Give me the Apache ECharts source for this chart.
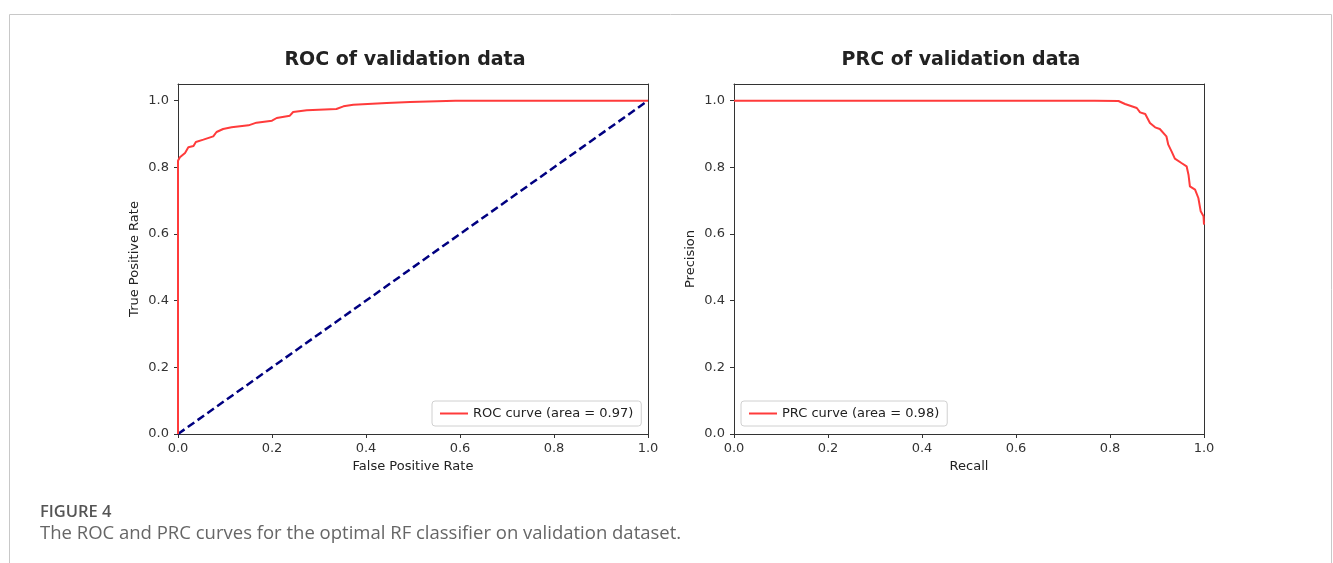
<!DOCTYPE html>
<html>
<head>
<meta charset="utf-8">
<script src="https://cdn.jsdelivr.net/npm/echarts@6/dist/echarts.min.js"></script>
<style>
  html, body { margin: 0; padding: 0; background: #fff; }
  #main { width: 1333px; height: 563px; }
</style>
</head>
<body>
<div id="main"></div>
<script>
// ROC curve points
var rocFpr = [0, 0, 0.004, 0.015, 0.022, 0.033, 0.038, 0.054, 0.075, 0.082, 0.096, 0.114, 0.118, 0.15, 0.167, 0.2, 0.21, 0.238, 0.245, 0.274, 0.337, 0.352, 0.373, 0.444, 0.494, 0.59, 1.0];
var rocTpr = [0, 0.82, 0.83, 0.843, 0.86, 0.864, 0.876, 0.883, 0.893, 0.906, 0.915, 0.92, 0.926, 0.926, 0.934, 0.94, 0.948, 0.955, 0.966, 0.971, 0.975, 0.983, 0.988, 0.993, 0.996, 1.0, 1.0];
var diagX = [0, 1];
var diagY = [0, 1];

// PRC curve points
var prcRecall = [0, 0.672, 0.768, 0.818, 0.832, 0.857, 0.864, 0.875, 0.885, 0.896, 0.906, 0.92, 0.924, 0.931, 0.938, 0.952, 0.963, 0.967, 0.97, 0.981, 0.988, 0.993, 0.999, 1.0];
var prcPrecision = [1.0, 1.0, 1.0, 0.999, 0.99, 0.978, 0.965, 0.96, 0.933, 0.92, 0.915, 0.893, 0.868, 0.848, 0.826, 0.813, 0.803, 0.778, 0.743, 0.733, 0.708, 0.668, 0.653, 0.628];

var rocName = 'ROC curve (area = 0.97)';
var prcName = 'PRC curve (area = 0.98)';

function zip(a, b) {
  return a.map(function (v, i) { return [v, b[i]]; });
}

var chart = echarts.init(document.getElementById('main'));
var fontFam = 'DejaVu Sans';
var boxColor = '#333';

function mainX(idx, name) {
  return {
    type: 'value', gridIndex: idx, min: 0, max: 1, interval: 0.2,
    name: name, nameLocation: 'middle', nameGap: 25,
    nameTextStyle: { fontFamily: fontFam, fontSize: 13, color: '#222' },
    axisLine: { show: true, onZero: false, lineStyle: { color: boxColor } },
    axisTick: { show: true, length: 4, lineStyle: { color: boxColor } },
    axisLabel: { fontFamily: fontFam, fontSize: 13, color: '#333', margin: 8,
      formatter: function (v) { return v.toFixed(1); } },
    splitLine: { show: false }
  };
}
function mainY(idx, name) {
  return {
    type: 'value', gridIndex: idx, min: 0, max: 1.05, interval: 0.2,
    name: name, nameLocation: 'middle', nameGap: 37,
    nameTextStyle: { fontFamily: fontFam, fontSize: 13, color: '#222' },
    axisLine: { show: true, onZero: false, lineStyle: { color: boxColor } },
    axisTick: { show: true, length: 4, lineStyle: { color: boxColor } },
    axisLabel: { fontFamily: fontFam, fontSize: 13, color: '#333', margin: 9, showMaxLabel: false,
      formatter: function (v) { return v > 1.01 ? '' : v.toFixed(1); } },
    splitLine: { show: false }
  };
}
function frameX(idx) {
  return { type: 'value', gridIndex: idx, position: 'top', min: 0, max: 1,
    axisLine: { show: true, onZero: false, lineStyle: { color: boxColor } },
    axisTick: { show: false }, axisLabel: { show: false }, splitLine: { show: false } };
}
function frameY(idx) {
  return { type: 'value', gridIndex: idx, position: 'right', min: 0, max: 1.05,
    axisLine: { show: true, onZero: false, lineStyle: { color: boxColor } },
    axisTick: { show: false }, axisLabel: { show: false }, splitLine: { show: false } };
}

var legendBase = {
  orient: 'horizontal', icon: 'rect', itemWidth: 28, itemHeight: 2, itemGap: 8,
  padding: [6, 8, 6, 8], borderColor: '#d0d0d0', borderWidth: 1, borderRadius: 3,
  backgroundColor: 'rgba(255,255,255,0.8)',
  textStyle: { fontFamily: fontFam, fontSize: 13, color: '#222' }
};

var titleStyle = { fontFamily: fontFam, fontSize: 19, fontWeight: 'bold', color: '#222' };

chart.setOption({
  animation: false,
  title: [
    { text: 'ROC of validation data', left: 400, top: 46, textAlign: 'center', textStyle: titleStyle },
    { text: 'PRC of validation data', left: 956, top: 46, textAlign: 'center', textStyle: titleStyle }
  ],
  grid: [
    { left: 178, top: 84, width: 470, height: 350 },
    { left: 734, top: 84, width: 470, height: 350 }
  ],
  xAxis: [mainX(0, 'False Positive Rate'), mainX(1, 'Recall'), frameX(0), frameX(1)],
  yAxis: [mainY(0, 'True Positive Rate'), mainY(1, 'Precision'), frameY(0), frameY(1)],
  legend: [
    Object.assign({}, legendBase, { data: [rocName], left: 432, top: 401 }),
    Object.assign({}, legendBase, { data: [prcName], left: 741, top: 401 })
  ],
  series: [
    { name: 'diag', type: 'line', xAxisIndex: 0, yAxisIndex: 0, data: zip(diagX, diagY),
      showSymbol: false, lineStyle: { color: '#000080', width: 2.5, type: [8, 4] }, z: 2 },
    { name: rocName, type: 'line', xAxisIndex: 0, yAxisIndex: 0, data: zip(rocFpr, rocTpr),
      showSymbol: false, color: '#ff3b3b', lineStyle: { color: '#ff3b3b', width: 2 }, z: 3 },
    { name: prcName, type: 'line', xAxisIndex: 1, yAxisIndex: 1, data: zip(prcRecall, prcPrecision),
      showSymbol: false, color: '#ff3b3b', lineStyle: { color: '#ff3b3b', width: 2 }, z: 3 }
  ],
  graphic: [
    { type: 'rect', silent: true, shape: { x: 9.5, y: 14.5, width: 1322, height: 600 },
      style: { fill: 'none', stroke: '#c8c8c8', lineWidth: 1 } },
    { type: 'text', left: 40, top: 504, style: { text: 'FIGURE 4', fontFamily: 'Open Sans',
      fontSize: 16.5, fontWeight: 600, fill: '#555' } },
    { type: 'text', left: 40, top: 524, style: { text: 'The ROC and PRC curves for the optimal RF classifier on validation dataset.',
      fontFamily: 'Open Sans', fontSize: 18.5, fill: '#666' } }
  ]
});
</script>
</body>
</html>
